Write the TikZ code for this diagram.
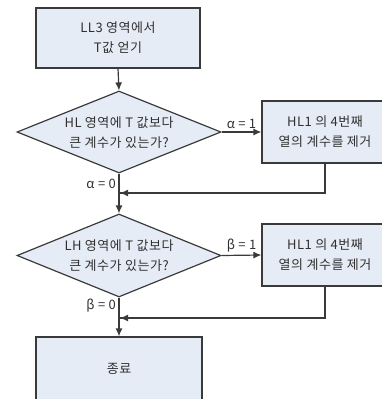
\documentclass[tikz,border=0pt]{standalone}
\usepackage{fontspec}
\setmainfont{Noto Sans CJK KR}[LetterSpace=4]
\usetikzlibrary{shapes.geometric,arrows.meta}
\definecolor{boxfill}{HTML}{E6ECF6}
\definecolor{linec}{HTML}{3A3A3A}
\definecolor{textc}{HTML}{303030}
\begin{document}
\begin{tikzpicture}[x=1pt,y=-1pt,
  every node/.style={font=\fontsize{13}{20}\selectfont, text=textc},
  box/.style={draw=linec, line width=1.2pt, fill=boxfill, rectangle, inner sep=0pt, align=center},
  dia/.style={draw=linec, line width=1.2pt, fill=boxfill, diamond, inner sep=0pt, minimum width=204pt, minimum height=82pt},
  conn/.style={draw=linec, line width=1.2pt, -{Latex[length=8pt,width=7pt]}},
  plain/.style={draw=linec, line width=1.2pt},
  lbl/.style={inner sep=2.5pt}
]
\useasboundingbox (0,0) rectangle (382,399);
\clip (0,0) rectangle (382,399);
\node[box, minimum width=164pt, minimum height=60pt] (start) at (118,38) {LL3 영역에서\\T값 얻기};
\node[dia] (d1) at (119,132) {};
\node[align=center] (t1) at (119,133) {HL 영역에 T 값보다\\큰 계수가 있는가?};
\node[box, minimum width=126pt, minimum height=62pt] (b1) at (325,132) {HL1 의 4번째\\열의 계수를 제거};
\coordinate (j1) at (119,193);
\node[dia, minimum height=83pt] (d2) at (119,255.5) {};
\node[align=center] (t2) at (119,256) {LH 영역에 T 값보다\\큰 계수가 있는가?};
\node[box, minimum width=126pt, minimum height=62pt] (b2) at (325,255) {HL1 의 4번째\\열의 계수를 제거};
\coordinate (j2) at (119,318);
\node[box, minimum width=166pt, minimum height=64pt] (end) at (119,369) {종료};

\draw[conn] (start.south) -- (d1.north);
\draw[conn] (d1.east) -- node[lbl, above, pos=0.5] {α = 1} (b1.west);
\draw[plain] (b1.south) |- (j1);
\draw[conn] ([xshift=-0.6pt]b1.south |- j1) -- ([xshift=1pt]j1);
\draw[conn] (d1.south) -- node[lbl, left, pos=0.25] {α = 0} (d2.north);
\draw[conn] (d2.east) -- node[lbl, above, pos=0.5] {β = 1} (b2.west);
\draw[plain] (b2.south) |- (j2);
\draw[conn] ([xshift=-0.6pt]b2.south |- j2) -- ([xshift=1pt]j2);
\draw[conn] (d2.south) -- node[lbl, left, pos=0.2] {β = 0} (end.north);
\end{tikzpicture}
\end{document}
